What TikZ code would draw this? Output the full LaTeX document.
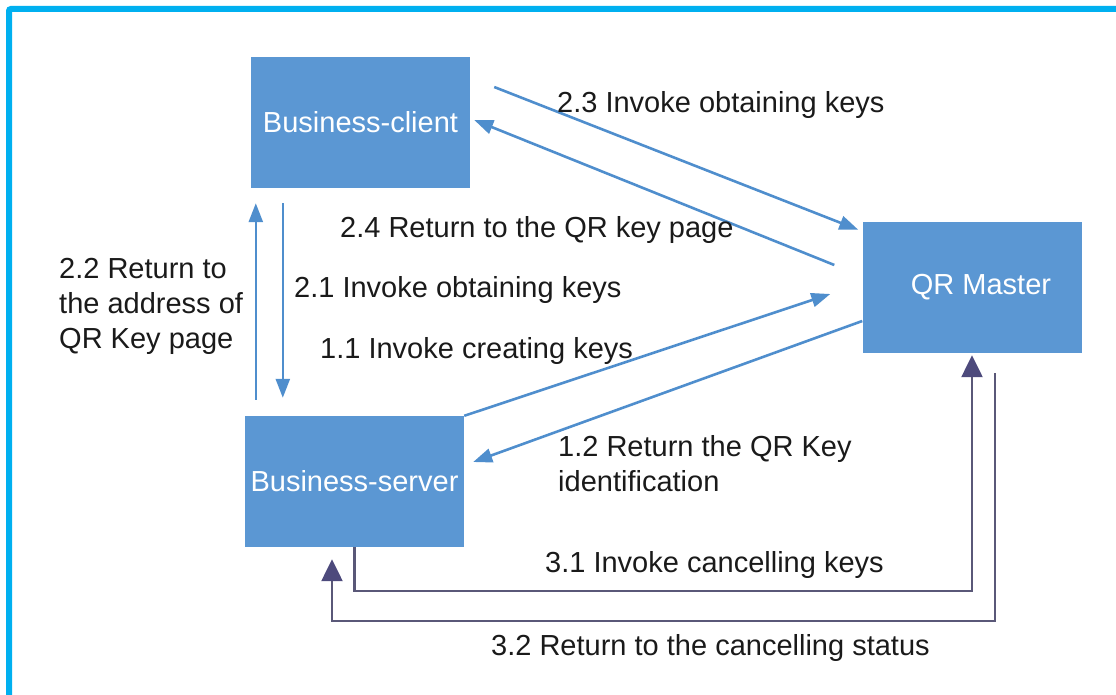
\documentclass[tikz,border=0pt]{standalone}
\usepackage{fontspec}
\setmainfont{Liberation Sans}
\usetikzlibrary{arrows.meta,calc}
\definecolor{boxblue}{HTML}{5B97D3}
\definecolor{lineblue}{HTML}{4F8ECD}
\definecolor{darkline}{HTML}{5A5878}
\definecolor{darktip}{HTML}{4D4A7C}
\definecolor{framecyan}{HTML}{00B0F0}
\definecolor{txt}{HTML}{1A1A1A}
\tikzset{
  box/.style={fill=boxblue,draw=none,minimum width=219pt,minimum height=131pt,inner sep=0pt,text=white,font=\fontsize{29}{34}\selectfont},
  blueconn/.style={draw=lineblue,line width=2.6pt,-{Triangle[length=19pt,width=14pt]}},
  darkconn/.style={draw=darkline,line width=2.4pt,-{Triangle[length=22pt,width=21pt,color=darktip]}},
  lbl/.style={text=txt,font=\fontsize{29}{35}\selectfont,inner sep=0pt},
}
\begin{document}
\begin{tikzpicture}[x=1pt,y=-1pt]
\useasboundingbox (0,0) rectangle (1116,695);
\begin{scope}
\clip (0,0) rectangle (1116,695);
\draw[framecyan,line width=6pt,rounded corners=2pt] (9,9) rectangle (1200,800);
\end{scope}
% boxes
\node[box] (bc) at (360.5,122.5) {\raisebox{-2pt}{Business-client}};
\node[box] (qr) at (972,287.5) {\hspace*{18pt}\raisebox{-1pt}{QR Master}};
\node[box] (bs) at (354.5,481.5) {\raisebox{-1pt}{Business-server}};
% coordinates
\coordinate (a23s) at ($(bc.east)+(24,-35.5)$);
\coordinate (a23e) at ($(qr.north west)+(-4,8)$);
\coordinate (a24s) at ($(qr.west)+(-28,-22.5)$);
\coordinate (a24e) at ($(bc.east)+(4,-2.5)$);
\coordinate (a11e) at ($(qr.west)+(-32,6.5)$);
\coordinate (a12s) at ($(qr.west)+(0,33.5)$);
\coordinate (a12e) at ($(bs.east)+(9,-19.5)$);
\coordinate (a22s) at ($(bs.north west)+(11,-16)$);
\coordinate (a22e) at ($(bc.south west)+(5,15)$);
\coordinate (a21s) at ($(bc.south west)+(32,15)$);
\coordinate (a21e) at ($(bs.north west)+(38,-18)$);
\coordinate (c31) at ($(qr.south)+(0,238)$);
\coordinate (a31e) at ($(qr.south)+(0,2)$);
\coordinate (a32s) at ($(qr.south)+(23,20)$);
\coordinate (c32) at ($(bs.south)+(-22.5,74)$);
\coordinate (a32e) at ($(bs.south)+(-22.5,12)$);
% blue connectors
\draw[blueconn] (a23s) -- (a23e);
\draw[blueconn] (a24s) -- (a24e);
\draw[blueconn] (bs.north east) -- (a11e);
\draw[blueconn] (a12s) -- (a12e);
\draw[blueconn] (a22s) -- (a22e);
\draw[blueconn] (a21s) -- (a21e);
% dark connectors
\draw[darkconn] (bs.south) |- (c31) -- (a31e);
\draw[darkconn] (a32s) |- (c32) -- (a32e);
% labels
\node[lbl,anchor=west] (l23) at (557,105) {2.3 Invoke obtaining keys};
\node[lbl,anchor=west] (l24) at (340,230) {2.4 Return to the QR key page};
\node[lbl,anchor=north west,align=left] (l22) at (59,258) {2.2 Return to\\the address of\\QR Key page};
\node[lbl,anchor=west] (l21) at (294,290) {2.1 Invoke obtaining keys};
\node[lbl,anchor=west] (l11) at (320,351) {1.1 Invoke creating keys};
\node[lbl,anchor=north west,align=left] (l12) at (558,435) {1.2 Return the QR Key\\identification};
\node[lbl,anchor=west] (l31) at (545,565) {3.1 Invoke cancelling keys};
\node[lbl,anchor=west] (l32) at (491,648) {3.2 Return to the cancelling status};
\end{tikzpicture}
\end{document}
